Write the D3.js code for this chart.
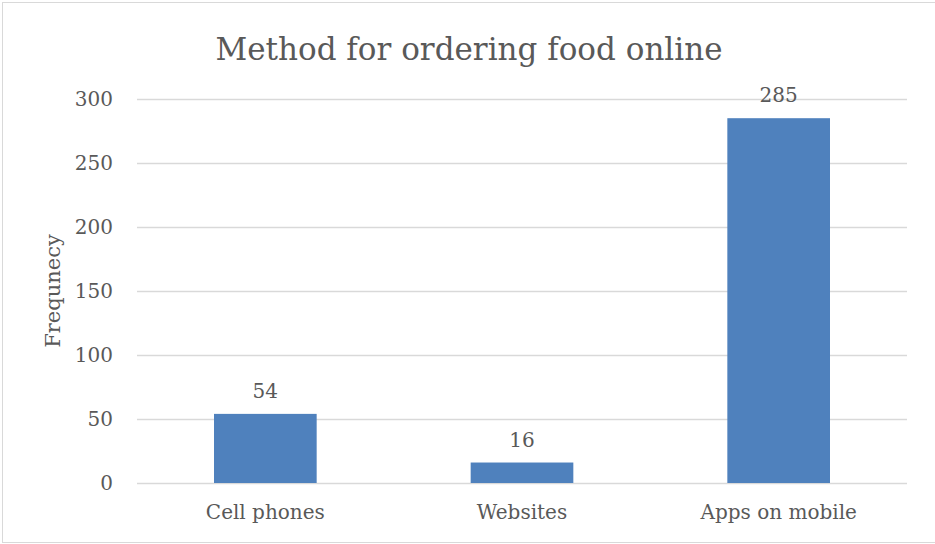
<!DOCTYPE html>
<html>
<head>
<meta charset="utf-8">
<script src="https://cdn.jsdelivr.net/npm/d3@7"></script>
<style>
  html, body { margin: 0; padding: 0; background: #fff; }
  svg { display: block; }
  text { font-family: "DejaVu Serif", "Liberation Serif", serif; fill: #595959; }
</style>
</head>
<body>
<svg id="chart" width="935" height="544"></svg>
<script>
// Survey answers: how respondents order food online
const categories = ["Cell phones", "Websites", "Apps on mobile"];
const frequencies = [54, 16, 285];
const yTicks = [0, 50, 100, 150, 200, 250, 300];

const chartTitle = "Method for ordering food online";
const yTitle = "Frequnecy";

const W = 935, H = 544;
const margin = { top: 99, right: 28, bottom: 61, left: 137 };

const svg = d3.select("#chart");

// outer chart frame
svg.append("rect")
  .attr("x", 2.5).attr("y", 2.5)
  .attr("width", W + 10).attr("height", H - 4)
  .attr("fill", "#fff")
  .attr("stroke", "#d9d9d9")
  .attr("stroke-width", 1);

const x = d3.scaleBand()
  .domain(categories)
  .range([margin.left, W - margin.right])
  .paddingInner(0.6)
  .paddingOuter(0.3);

const y = d3.scaleLinear()
  .domain([0, 300])
  .range([H - margin.bottom, margin.top]);

// horizontal gridlines
svg.append("g")
  .selectAll("line")
  .data(yTicks)
  .join("line")
  .attr("x1", margin.left)
  .attr("x2", W - margin.right)
  .attr("y1", d => Math.round(y(d)) + 0.5)
  .attr("y2", d => Math.round(y(d)) + 0.5)
  .attr("stroke", "#d9d9d9")
  .attr("stroke-width", 1.3);

// y axis tick labels
const yAxis = d3.axisLeft(y).tickValues(yTicks).tickSize(0).tickPadding(24);
const gy = svg.append("g")
  .attr("transform", `translate(${margin.left},0)`)
  .call(yAxis);
gy.select(".domain").remove();
gy.selectAll("text")
  .style("font-family", "'DejaVu Serif', serif")
  .style("font-size", "20px")
  .attr("fill", "#595959");

// x axis category labels
const xAxis = d3.axisBottom(x).tickSize(0).tickPadding(22);
const gx = svg.append("g")
  .attr("transform", `translate(0,${H - margin.bottom})`)
  .call(xAxis);
gx.select(".domain").remove();
gx.selectAll("text")
  .style("font-family", "'DejaVu Serif', serif")
  .style("font-size", "20px")
  .attr("fill", "#595959");

// bars
svg.append("g")
  .selectAll("rect")
  .data(categories)
  .join("rect")
  .attr("x", d => x(d))
  .attr("width", x.bandwidth())
  .attr("y", (d, i) => y(frequencies[i]))
  .attr("height", (d, i) => y(0) - y(frequencies[i]))
  .attr("fill", "#4f81bd");

// value labels above bars
svg.append("g")
  .selectAll("text")
  .data(categories)
  .join("text")
  .attr("x", d => x(d) + x.bandwidth() / 2)
  .attr("y", (d, i) => y(frequencies[i]) - 16)
  .attr("text-anchor", "middle")
  .style("font-size", "20px")
  .attr("fill", "#404040")
  .text((d, i) => frequencies[i]);

// chart title
svg.append("text")
  .attr("x", 469)
  .attr("y", 60)
  .attr("text-anchor", "middle")
  .style("font-size", "31px")
  .text(chartTitle);

// y axis title
svg.append("text")
  .attr("transform", `translate(60,${(margin.top + H - margin.bottom) / 2}) rotate(-90)`)
  .attr("text-anchor", "middle")
  .style("font-size", "21px")
  .text(yTitle);
</script>
</body>
</html>
